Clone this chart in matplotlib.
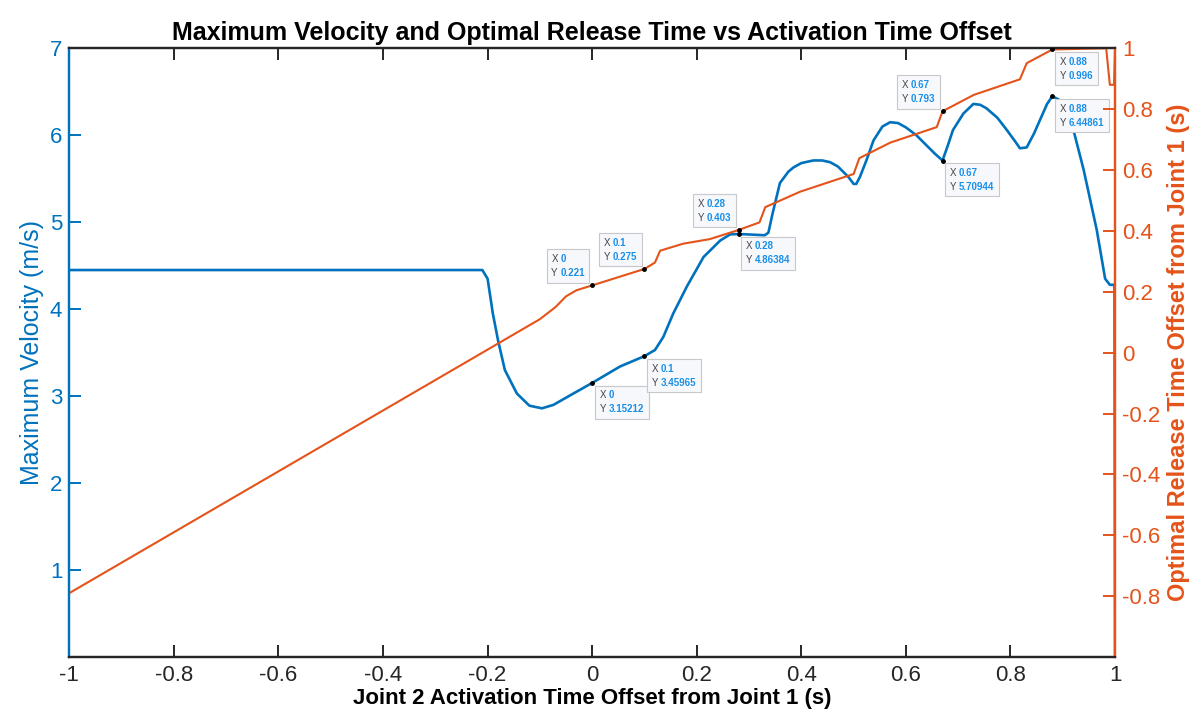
import matplotlib.pyplot as plt
from matplotlib.patches import Rectangle
from matplotlib.transforms import Bbox, IdentityTransform

plt.rcParams['font.family'] = ['Liberation Sans', 'DejaVu Sans']
plt.rcParams['axes.unicode_minus'] = False

# Maximum velocity (left axis)
vel_x = [-1, -0.21, -0.2, -0.19, -0.18, -0.167, -0.144, -0.12, -0.096, -0.074,
         -0.036, 0, 0.053, 0.1, 0.12, 0.136, 0.155, 0.181, 0.213, 0.245, 0.264,
         0.28, 0.296, 0.33, 0.337, 0.345, 0.359, 0.375, 0.385, 0.40, 0.423,
         0.44, 0.455, 0.47, 0.48, 0.49, 0.5, 0.505, 0.512, 0.525, 0.538, 0.555,
         0.57, 0.585, 0.6, 0.62, 0.64, 0.655, 0.67, 0.68, 0.69, 0.71, 0.729,
         0.742, 0.754, 0.775, 0.793, 0.81, 0.818, 0.831, 0.845, 0.856, 0.87,
         0.88, 0.895, 0.914, 0.94, 0.965, 0.981, 0.99, 0.999, 1.0]
vel_y = [4.45, 4.45, 4.35, 3.95, 3.64, 3.30, 3.03, 2.89, 2.86, 2.90,
         3.03, 3.152, 3.34, 3.46, 3.53, 3.68, 3.95, 4.26, 4.60, 4.79, 4.86,
         4.864, 4.86, 4.85, 4.88, 5.10, 5.45, 5.58, 5.63, 5.68, 5.71,
         5.71, 5.69, 5.64, 5.58, 5.52, 5.44, 5.44, 5.52, 5.72, 5.94, 6.10,
         6.15, 6.14, 6.09, 6.00, 5.88, 5.79, 5.709, 5.88, 6.06, 6.25, 6.36,
         6.35, 6.31, 6.20, 6.06, 5.92, 5.85, 5.86, 6.02, 6.17, 6.36,
         6.449, 6.40, 6.21, 5.60, 4.91, 4.35, 4.28, 4.28, 0.0]

# Optimal release time offset (right axis)
rel_x = [-1, -0.3, -0.2, -0.15, -0.1, -0.07, -0.05, -0.03, 0, 0.05, 0.1, 0.12,
         0.13, 0.174, 0.225, 0.28, 0.32, 0.331, 0.398, 0.5, 0.511, 0.57, 0.659,
         0.67, 0.73, 0.818, 0.831, 0.88, 0.983, 0.99, 0.998, 1.0]
rel_y = [-0.79, -0.09, 0.01, 0.06, 0.11, 0.15, 0.185, 0.205, 0.221, 0.248,
         0.275, 0.296, 0.335, 0.358, 0.373, 0.403, 0.428, 0.478, 0.529, 0.587,
         0.639, 0.69, 0.741, 0.793, 0.847, 0.898, 0.951, 0.996, 1.0, 0.88,
         0.88, 1.0]

# data tips: x, y, shown value text, which axis, box side
tips = [
    (0, 3.15212, '0', '3.15212', 'vel', 'dr'),
    (0.1, 3.45965, '0.1', '3.45965', 'vel', 'dr'),
    (0.28, 4.86384, '0.28', '4.86384', 'vel', 'dr'),
    (0.67, 5.70944, '0.67', '5.70944', 'vel', 'dr'),
    (0.88, 6.44861, '0.88', '6.44861', 'vel', 'dr'),
    (0, 0.221, '0', '0.221', 'rel', 'ul'),
    (0.1, 0.275, '0.1', '0.275', 'rel', 'ul'),
    (0.28, 0.403, '0.28', '0.403', 'rel', 'ul'),
    (0.67, 0.793, '0.67', '0.793', 'rel', 'ul'),
    (0.88, 0.996, '0.88', '0.996', 'rel', 'dr'),
]

blue = '#0072BD'
orange = '#E4531A'
dark = '#262626'

fig = plt.figure(figsize=(11.99, 7.12), dpi=100)
ax = fig.add_subplot(111)
fig.subplots_adjust(left=0.0578, right=0.930, bottom=0.0772, top=0.9322)
ax2 = ax.twinx()

ax.plot(vel_x, vel_y, color=blue, lw=1.9, zorder=3)
ax2.plot(rel_x, rel_y, color=orange, lw=1.5, zorder=2)

ax.set_xlim(-1, 1)
ax.set_ylim(0, 7)
ax2.set_ylim(-1, 1)

xt = [-1, -0.8, -0.6, -0.4, -0.2, 0, 0.2, 0.4, 0.6, 0.8, 1]
ax.set_xticks(xt)
ax.set_xticklabels([f'{v:g}' for v in xt])
ax.set_yticks([1, 2, 3, 4, 5, 6, 7])
rt = [-0.8, -0.6, -0.4, -0.2, 0, 0.2, 0.4, 0.6, 0.8, 1]
ax2.set_yticks(rt)
ax2.set_yticklabels([f'{v:g}' for v in rt])

ax.tick_params(axis='x', direction='in', length=8.4, width=1.4, colors=dark,
               labelsize=16, top=True, pad=6)
ax.tick_params(axis='y', direction='in', length=8.4, width=1.4, colors=blue,
               labelsize=16, pad=5)
ax2.tick_params(axis='y', direction='in', length=8.4, width=1.4, colors=orange,
                labelsize=16, pad=5)

for a in (ax, ax2):
    a.spines['top'].set_color(dark)
    a.spines['bottom'].set_color(dark)
    a.spines['left'].set_color(blue)
    a.spines['right'].set_color(orange)
    for s in a.spines.values():
        s.set_linewidth(1.6)

ax.set_title('Maximum Velocity and Optimal Release Time vs Activation Time Offset',
             fontsize=18, fontweight='bold', pad=6)
ax.set_xlabel('Joint 2 Activation Time Offset from Joint 1 (s)', fontsize=16,
              fontweight='bold', labelpad=1)
ax.set_ylabel('Maximum Velocity (m/s)', fontsize=18, color=blue, labelpad=4)
ax2.set_ylabel('Optimal Release Time Offset from Joint 1 (s)', fontsize=17,
               fontweight='bold', color=orange, labelpad=5)

PAD = 3.3  # points of padding inside a tip box
made = []


def datatip(a, x, y, xs, ys, side):
    a.plot([x], [y], 'o', color='black', ms=2.5, zorder=6)
    kw = dict(fontsize=7, linespacing=1.5, zorder=8, multialignment='left')
    if side == 'dr':
        lab = a.annotate('X\nY', xy=(x, y), xytext=(2 + PAD, -2 - PAD),
                         textcoords='offset points', ha='left', va='top',
                         color='#444444', **kw)
        val = a.annotate(f'{xs}\n{ys}', xy=(0, 1), xycoords=lab,
                         xytext=(6.5, 0), textcoords='offset points',
                         ha='left', va='top', fontweight='bold',
                         color='#1a8fe8', **kw)
    else:
        val = a.annotate(f'{xs}\n{ys}', xy=(x, y), xytext=(-2 - PAD, 2 + PAD),
                         textcoords='offset points', ha='right', va='bottom',
                         fontweight='bold', color='#1a8fe8', **kw)
        lab = a.annotate('X\nY', xy=(0, 1), xycoords=val, xytext=(-6.5, 0),
                         textcoords='offset points', ha='left', va='top',
                         color='#444444', **kw)
    made.append((a, lab, val))


for x, y, xs, ys, which, side in tips:
    datatip(ax if which == 'vel' else ax2, x, y, xs, ys, side)

# draw the tip boxes around the placed texts
fig.canvas.draw()
r = fig.canvas.get_renderer()
pp = PAD * fig.dpi / 72
for a, lab, val in made:
    bb = Bbox.union([lab.get_window_extent(r), val.get_window_extent(r)])
    a.add_patch(Rectangle((bb.x0 - pp, bb.y0 - pp), bb.width + 2 * pp,
                          bb.height + 2 * pp, transform=IdentityTransform(),
                          fc='#f7f8fc', ec='#c8c8cc', lw=0.8, zorder=7,
                          clip_on=False))

fig.savefig('out.png', dpi=100)
